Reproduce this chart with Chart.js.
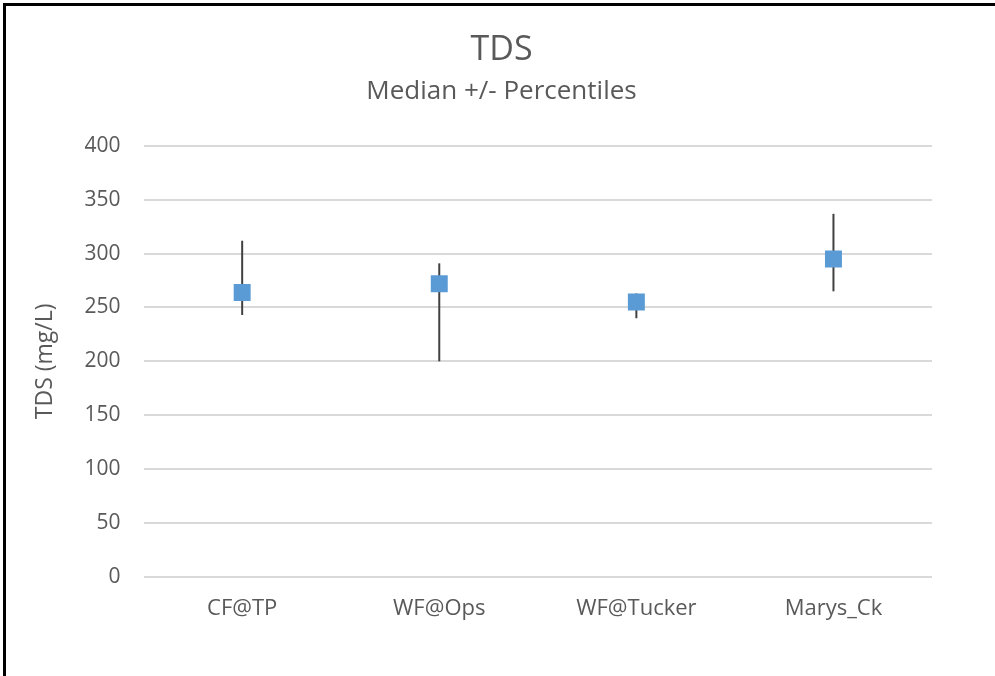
<!DOCTYPE html>
<html>
<head>
<meta charset="utf-8">
<script src="https://cdn.jsdelivr.net/npm/chart.js@4.4.1/dist/chart.umd.min.js"></script>
<style>
  html, body { margin: 0; padding: 0; background: #fff; }
  #wrap { position: relative; width: 995px; height: 676px; }
  #frame {
    position: absolute; left: 3px; top: 3px; right: 0; bottom: 0;
    border-top: 3px solid #000; border-left: 3px solid #000;
    pointer-events: none;
  }
  canvas { position: absolute; left: 0; top: 0; }
</style>
</head>
<body>
<div id="wrap">
  <canvas id="tdsChart" width="995" height="676"></canvas>
  <div id="frame"></div>
</div>
<script>
// site names along the x axis
const sites = ['CF@TP', 'WF@Ops', 'WF@Tucker', 'Marys_Ck'];
// median TDS (mg/L)
const medians = [264, 272, 255, 295];
// lower / upper percentiles
const lowerPct = [243, 200, 240, 265];
const upperPct = [312, 291, 263, 337];

const textColor = '#595959';
const gridColor = '#d9d9d9';

// draws the whisker for each point from the percentile arrays
const errorBars = {
    id: 'errorBars',
    beforeDatasetsDraw(chart) {
        const ctx = chart.ctx;
        const x = chart.scales.x;
        const y = chart.scales.y;
        ctx.save();
        ctx.strokeStyle = '#404040';
        ctx.lineWidth = 2;
        sites.forEach((s, i) => {
            const px = x.getPixelForValue(i);
            ctx.beginPath();
            ctx.moveTo(px, y.getPixelForValue(lowerPct[i]));
            ctx.lineTo(px, y.getPixelForValue(upperPct[i]));
            ctx.stroke();
        });
        ctx.restore();
    }
};

new Chart(document.getElementById('tdsChart').getContext('2d'), {
    type: 'line',
    data: {
        labels: sites,
        datasets: [{
            label: 'Median',
            data: medians,
            showLine: false,
            pointStyle: 'rect',
            pointRadius: 12,
            pointHoverRadius: 12,
            pointBackgroundColor: '#5b9bd5',
            pointBorderColor: '#5b9bd5',
            pointBorderWidth: 0
        }]
    },
    options: {
        responsive: false,
        animation: false,
        layout: { padding: { left: 8, right: 0, top: 24, bottom: 43 } },
        plugins: {
            legend: { display: false },
            tooltip: { enabled: false },
            title: {
                display: true,
                text: 'TDS',
                color: textColor,
                font: { family: 'Open Sans', size: 34, weight: 'normal' },
                padding: { top: 6, bottom: 5 }
            },
            subtitle: {
                display: true,
                text: 'Median +/- Percentiles',
                color: textColor,
                font: { family: 'Open Sans', size: 26, weight: 'normal' },
                padding: { top: 0, bottom: 39 }
            }
        },
        scales: {
            x: {
                offset: true,
                grid: { display: false },
                border: { display: false },
                ticks: {
                    color: textColor,
                    font: { family: 'Open Sans', size: 22 },
                    padding: 11
                }
            },
            y: {
                min: 0,
                max: 400,
                ticks: {
                    stepSize: 50,
                    color: textColor,
                    font: { family: 'Open Sans', size: 21 },
                    padding: 23
                },
                grid: { color: gridColor, lineWidth: 2, drawTicks: false },
                border: { display: false },
                title: {
                    display: true,
                    text: 'TDS (mg/L)',
                    color: textColor,
                    font: { family: 'Open Sans', size: 23 },
                    padding: { top: 24, bottom: 2 }
                }
            },
            // empty right-hand spacer so the title stays centred on the page
            spacer: {
                position: 'right',
                min: 0,
                max: 1,
                grid: { display: false },
                border: { display: false },
                ticks: { display: false },
                afterFit(scale) { scale.width = 63; }
            }
        }
    },
    plugins: [errorBars]
});
</script>
</body>
</html>
